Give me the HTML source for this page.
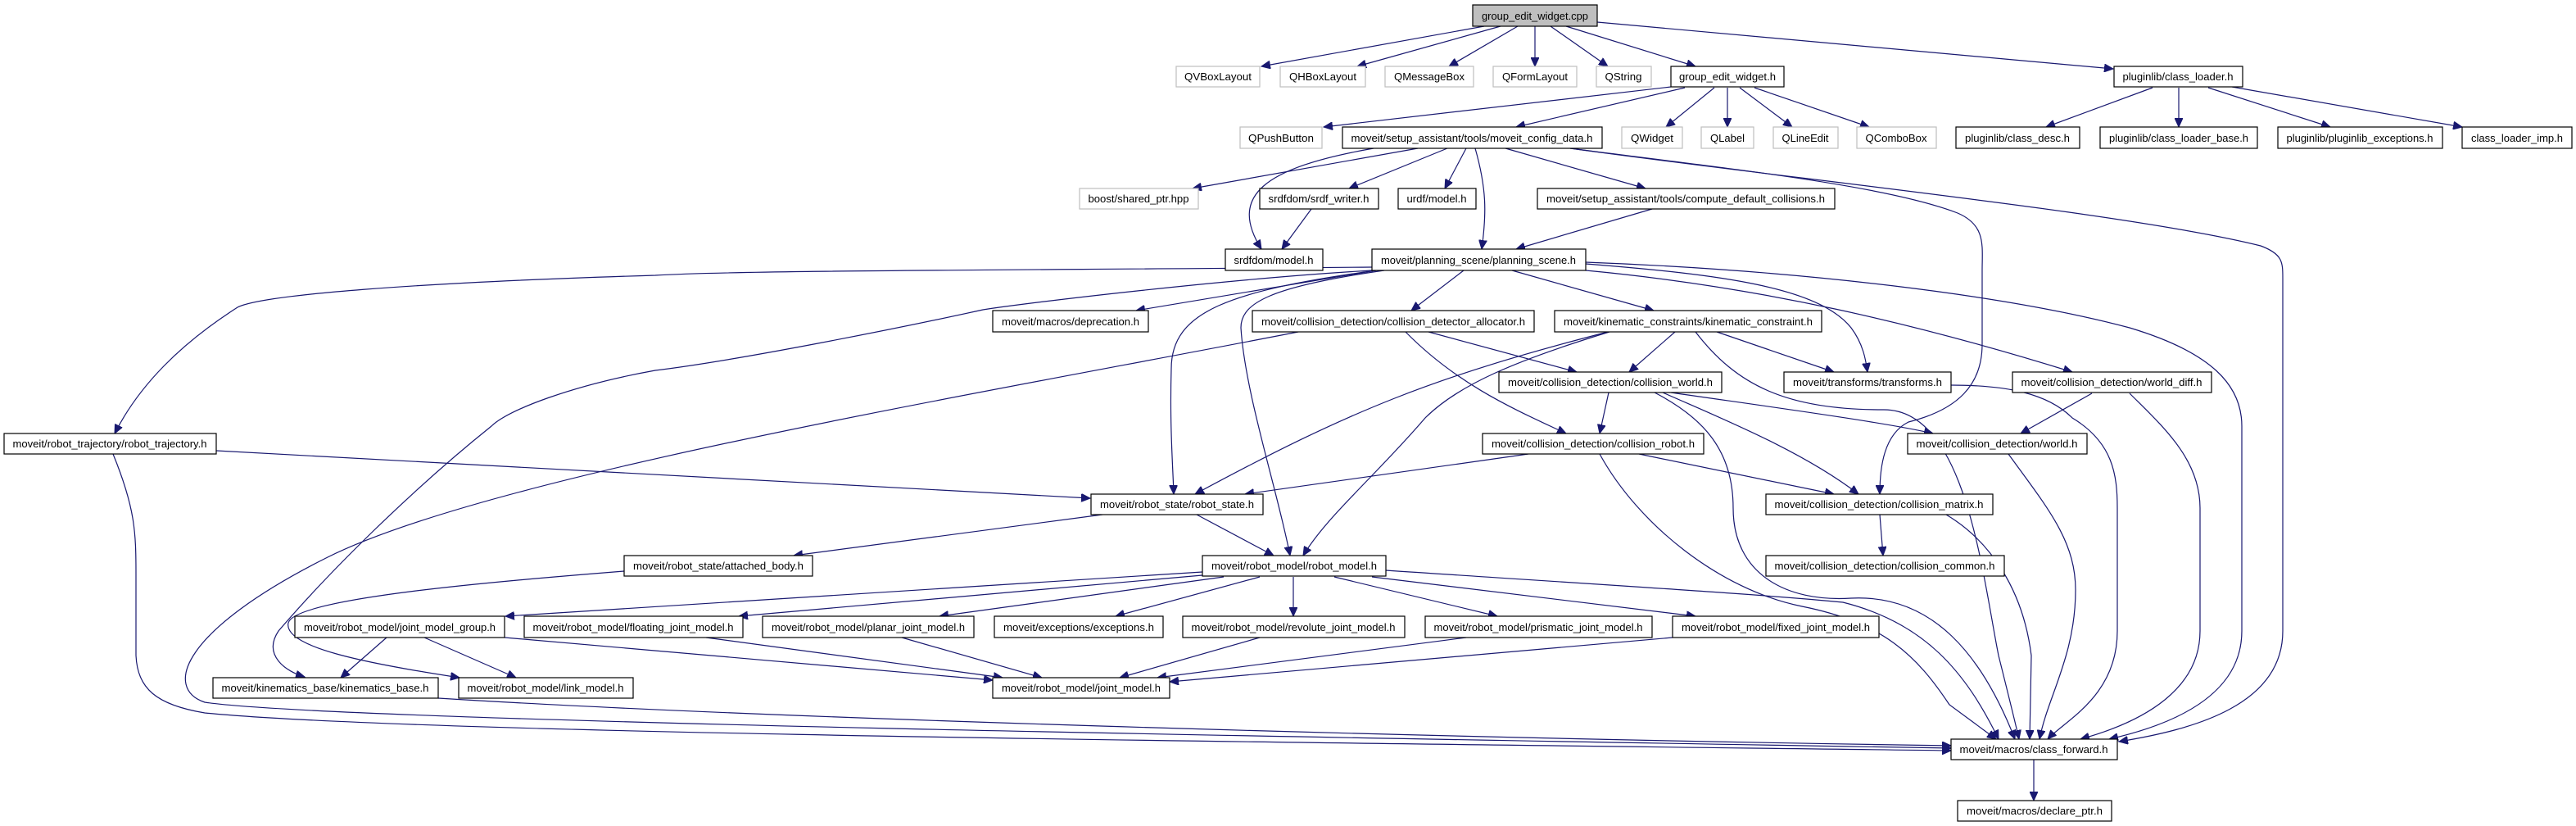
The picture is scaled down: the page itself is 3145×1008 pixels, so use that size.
<!DOCTYPE html>
<html><head><meta charset="utf-8"><style>
html,body{margin:0;padding:0;background:#fff;}
svg{display:block;}
text{font-family:"Liberation Sans",Arial,sans-serif;font-size:13px;fill:#000;text-anchor:middle;}
.n{fill:#fff;stroke:#000;stroke-width:1.2;}
.g{fill:#fff;stroke:#bfbfbf;stroke-width:1.2;}
.e{fill:none;stroke:#191970;stroke-width:1.2;marker-end:url(#a);}
</style></head><body>
<svg width="3145" height="1008" viewBox="0 0 3145 1008" xmlns="http://www.w3.org/2000/svg">
<defs><marker id="a" markerUnits="userSpaceOnUse" markerWidth="12" markerHeight="10" refX="11" refY="5" orient="auto"><path d="M0,0 L11,5 L0,10 z" fill="#191970" stroke="#191970"/></marker></defs>
<g>
<!-- edges -->
<path class="e" d="M1812,32 L1540,81"/>
<path class="e" d="M1832,32 L1657,81"/>
<path class="e" d="M1853,32 L1769,81"/>
<path class="e" d="M1874,32 L1874,81"/>
<path class="e" d="M1893,32 L1963,81"/>
<path class="e" d="M1912,32 L2070,81"/>
<path class="e" d="M1950,27 L2580,84"/>
<path class="e" d="M2040,106 L1616,155"/>
<path class="e" d="M2057,107 L1851,155"/>
<path class="e" d="M2093,107 L2034,155"/>
<path class="e" d="M2109,107 L2109,155"/>
<path class="e" d="M2124,107 L2188,155"/>
<path class="e" d="M2142,107 L2282,155"/>
<path class="e" d="M2628,107 L2498,155"/>
<path class="e" d="M2660,107 L2660,155"/>
<path class="e" d="M2696,107 L2845,155"/>
<path class="e" d="M2725,106 L3006,155"/>
<path class="e" d="M1731,181 L1456,230"/>
<path class="e" d="M1677,181 C1540,205 1500,240 1540,304"/>
<path class="e" d="M1601,255 L1565,304"/>
<path class="e" d="M1767,181 L1647,230"/>
<path class="e" d="M1790,181 L1764,230"/>
<path class="e" d="M1801,181 C1815,230 1815,260 1809,304"/>
<path class="e" d="M1838,181 L2009,230"/>
<path class="e" d="M2017,255 L1851,304"/>
<path class="e" d="M1917,181 C2100,205 2300,225 2390,260 C2425,275 2420,300 2420,330 L2420,420 C2420,470 2390,500 2330,515 C2300,530 2295,570 2295,603"/>
<path class="e" d="M1917,181 C2200,220 2600,260 2760,300 C2787,310 2787,320 2787,340 L2787,770 C2787,860 2680,890 2587,905"/>
<path class="e" d="M1675,326 C1200,330 900,330 800,336 C500,345 320,360 290,375 C220,420 170,470 140,529"/>
<path class="e" d="M1675,330 C1500,340 1250,370 1200,378 C1100,400 900,440 800,452 C700,470 620,500 600,520 C500,600 400,700 340,770 C320,800 350,820 372,826"/>
<path class="e" d="M1585,405 C1200,480 600,580 400,680 C220,770 200,840 250,857 C400,880 1600,900 2382,913"/>
<path class="e" d="M138,554 C165,620 166,650 166,700 L166,800 C168,840 190,860 250,870 C500,895 1500,905 2382,916"/>
<path class="e" d="M535,852 C900,875 1700,900 2382,910"/>
<path class="e" d="M1680,330 L1387,379"/>
<path class="e" d="M1680,330 C1500,355 1430,380 1430,450 C1428,520 1432,570 1433,603"/>
<path class="e" d="M1690,330 C1550,350 1515,370 1515,400 C1520,480 1560,600 1575,678"/>
<path class="e" d="M1787,330 L1723,379"/>
<path class="e" d="M1846,330 L2019,379"/>
<path class="e" d="M1936,322 C2100,335 2220,350 2260,400 C2275,420 2278,440 2280,454"/>
<path class="e" d="M1936,330 C2150,350 2340,395 2530,454"/>
<path class="e" d="M1936,320 C2200,330 2450,360 2600,400 C2700,430 2737,470 2737,520 L2737,770 C2737,850 2650,885 2575,902"/>
<path class="e" d="M2045,405 L1989,454"/>
<path class="e" d="M2096,405 L2239,454"/>
<path class="e" d="M1963,405 C1750,460 1650,500 1459,603"/>
<path class="e" d="M1965,405 C1850,440 1780,470 1740,510 C1680,580 1620,630 1591,678"/>
<path class="e" d="M2070,405 C2120,470 2180,500 2300,500 C2400,500 2420,700 2440,800 C2455,860 2460,880 2465,902"/>
<path class="e" d="M1744,405 L1925,454"/>
<path class="e" d="M1716,405 C1780,470 1850,500 1912,529"/>
<path class="e" d="M1964,479 L1953,529"/>
<path class="e" d="M2040,479 C2150,495 2300,515 2360,529"/>
<path class="e" d="M2030,479 C2100,510 2200,550 2269,603"/>
<path class="e" d="M2020,479 C2080,510 2116,550 2116,620 C2116,700 2180,735 2260,730 C2360,725 2420,800 2460,902"/>
<path class="e" d="M2554,480 L2467,529"/>
<path class="e" d="M2600,480 C2640,520 2686,560 2686,620 L2686,770 C2686,840 2620,880 2540,902"/>
<path class="e" d="M2452,554 C2500,620 2534,660 2534,720 C2534,800 2500,850 2490,902"/>
<path class="e" d="M2382,470 C2450,470 2500,480 2530,510 C2580,540 2585,580 2585,620 L2585,770 C2585,850 2520,880 2500,902"/>
<path class="e" d="M2376,628 C2430,660 2470,720 2480,800 L2478,902"/>
<path class="e" d="M1953,554 C2000,640 2100,720 2200,740 C2300,760 2340,800 2380,860 L2437,902"/>
<path class="e" d="M1866,554 L1520,603"/>
<path class="e" d="M2001,554 L2239,603"/>
<path class="e" d="M2295,628 L2299,678"/>
<path class="e" d="M264,550 L1331,608"/>
<path class="e" d="M1346,628 L969,678"/>
<path class="e" d="M1461,628 L1555,678"/>
<path class="e" d="M762,697 C600,710 360,730 352,760 C345,790 450,810 561,827"/>
<path class="e" d="M1468,698 L617,752"/>
<path class="e" d="M1468,702 L902,752"/>
<path class="e" d="M1494,704 L1147,752"/>
<path class="e" d="M1538,704 L1362,752"/>
<path class="e" d="M1579,704 L1579,752"/>
<path class="e" d="M1629,704 L1828,752"/>
<path class="e" d="M1675,704 L2070,752"/>
<path class="e" d="M1692,696 C1900,710 2150,725 2250,735 C2350,760 2400,820 2440,902"/>
<path class="e" d="M472,778 L416,827"/>
<path class="e" d="M518,778 L630,827"/>
<path class="e" d="M616,778 L1212,830"/>
<path class="e" d="M862,778 L1224,827"/>
<path class="e" d="M1101,778 L1272,827"/>
<path class="e" d="M1538,778 L1367,827"/>
<path class="e" d="M1790,778 L1413,827"/>
<path class="e" d="M2042,778 L1428,832"/>
<path class="e" d="M2483,927 L2483,977"/>
</g>
<g>
<!-- nodes -->
<rect x="1798" y="6" width="152" height="26" fill="#bfbfbf" stroke="#000" stroke-width="1.2"/><text x="1874" y="24" textLength="130" lengthAdjust="spacingAndGlyphs">group_edit_widget.cpp</text>

<rect class="g" x="1436" y="81" width="102" height="25"/><text x="1487" y="98" textLength="82" lengthAdjust="spacingAndGlyphs">QVBoxLayout</text>
<rect class="g" x="1563" y="81" width="104" height="25"/><text x="1615" y="98" textLength="82" lengthAdjust="spacingAndGlyphs">QHBoxLayout</text>
<rect class="g" x="1691" y="81" width="108" height="25"/><text x="1745" y="98" textLength="86" lengthAdjust="spacingAndGlyphs">QMessageBox</text>
<rect class="g" x="1823" y="81" width="102" height="25"/><text x="1874" y="98" textLength="80" lengthAdjust="spacingAndGlyphs">QFormLayout</text>
<rect class="g" x="1949" y="81" width="67" height="25"/><text x="1982" y="98" textLength="45" lengthAdjust="spacingAndGlyphs">QString</text>
<rect class="n" x="2040" y="81" width="138" height="25"/><text x="2109" y="98" textLength="118" lengthAdjust="spacingAndGlyphs">group_edit_widget.h</text>
<rect class="n" x="2581" y="81" width="157" height="25"/><text x="2659" y="98" textLength="135" lengthAdjust="spacingAndGlyphs">pluginlib/class_loader.h</text>

<rect class="g" x="1514" y="155" width="100" height="26"/><text x="1564" y="173" textLength="80" lengthAdjust="spacingAndGlyphs">QPushButton</text>
<rect class="n" x="1639" y="155" width="317" height="26"/><text x="1797" y="173" textLength="295" lengthAdjust="spacingAndGlyphs">moveit/setup_assistant/tools/moveit_config_data.h</text>
<rect class="g" x="1980" y="155" width="74" height="26"/><text x="2017" y="173" textLength="52" lengthAdjust="spacingAndGlyphs">QWidget</text>
<rect class="g" x="2077" y="155" width="64" height="26"/><text x="2109" y="173" textLength="42" lengthAdjust="spacingAndGlyphs">QLabel</text>
<rect class="g" x="2165" y="155" width="79" height="26"/><text x="2204" y="173" textLength="57" lengthAdjust="spacingAndGlyphs">QLineEdit</text>
<rect class="g" x="2267" y="155" width="97" height="26"/><text x="2315" y="173" textLength="75" lengthAdjust="spacingAndGlyphs">QComboBox</text>
<rect class="n" x="2388" y="155" width="151" height="26"/><text x="2463" y="173" textLength="128" lengthAdjust="spacingAndGlyphs">pluginlib/class_desc.h</text>
<rect class="n" x="2564" y="155" width="192" height="26"/><text x="2660" y="173" textLength="170" lengthAdjust="spacingAndGlyphs">pluginlib/class_loader_base.h</text>
<rect class="n" x="2781" y="155" width="201" height="26"/><text x="2881" y="173" textLength="179" lengthAdjust="spacingAndGlyphs">pluginlib/pluginlib_exceptions.h</text>
<rect class="n" x="3006" y="155" width="134" height="26"/><text x="3073" y="173" textLength="112" lengthAdjust="spacingAndGlyphs">class_loader_imp.h</text>

<rect class="g" x="1318" y="230" width="145" height="25"/><text x="1390" y="247" textLength="123" lengthAdjust="spacingAndGlyphs">boost/shared_ptr.hpp</text>
<rect class="n" x="1538" y="230" width="145" height="25"/><text x="1610" y="247" textLength="123" lengthAdjust="spacingAndGlyphs">srdfdom/srdf_writer.h</text>
<rect class="n" x="1707" y="230" width="95" height="25"/><text x="1754" y="247" textLength="73" lengthAdjust="spacingAndGlyphs">urdf/model.h</text>
<rect class="n" x="1877" y="230" width="363" height="25"/><text x="2058" y="247" textLength="340" lengthAdjust="spacingAndGlyphs">moveit/setup_assistant/tools/compute_default_collisions.h</text>

<rect class="n" x="1496" y="304" width="119" height="26"/><text x="1555" y="322" textLength="97" lengthAdjust="spacingAndGlyphs">srdfdom/model.h</text>
<rect class="n" x="1675" y="304" width="261" height="26"/><text x="1805" y="322" textLength="238" lengthAdjust="spacingAndGlyphs">moveit/planning_scene/planning_scene.h</text>

<rect class="n" x="1212" y="379" width="190" height="26"/><text x="1307" y="397" textLength="168" lengthAdjust="spacingAndGlyphs">moveit/macros/deprecation.h</text>
<rect class="n" x="1529" y="379" width="344" height="26"/><text x="1701" y="397" textLength="322" lengthAdjust="spacingAndGlyphs">moveit/collision_detection/collision_detector_allocator.h</text>
<rect class="n" x="1898" y="379" width="326" height="26"/><text x="2061" y="397" textLength="304" lengthAdjust="spacingAndGlyphs">moveit/kinematic_constraints/kinematic_constraint.h</text>

<rect class="n" x="1830" y="454" width="272" height="25"/><text x="1966" y="471" textLength="250" lengthAdjust="spacingAndGlyphs">moveit/collision_detection/collision_world.h</text>
<rect class="n" x="2178" y="454" width="204" height="25"/><text x="2280" y="471" textLength="182" lengthAdjust="spacingAndGlyphs">moveit/transforms/transforms.h</text>
<rect class="n" x="2457" y="454" width="243" height="25"/><text x="2578" y="471" textLength="221" lengthAdjust="spacingAndGlyphs">moveit/collision_detection/world_diff.h</text>

<rect class="n" x="5" y="529" width="259" height="25"/><text x="134" y="546" textLength="237" lengthAdjust="spacingAndGlyphs">moveit/robot_trajectory/robot_trajectory.h</text>
<rect class="n" x="1810" y="529" width="270" height="25"/><text x="1945" y="546" textLength="248" lengthAdjust="spacingAndGlyphs">moveit/collision_detection/collision_robot.h</text>
<rect class="n" x="2329" y="529" width="219" height="25"/><text x="2438" y="546" textLength="197" lengthAdjust="spacingAndGlyphs">moveit/collision_detection/world.h</text>

<rect class="n" x="1332" y="603" width="210" height="25"/><text x="1437" y="620" textLength="188" lengthAdjust="spacingAndGlyphs">moveit/robot_state/robot_state.h</text>
<rect class="n" x="2156" y="603" width="277" height="25"/><text x="2294" y="620" textLength="255" lengthAdjust="spacingAndGlyphs">moveit/collision_detection/collision_matrix.h</text>

<rect class="n" x="762" y="678" width="230" height="25"/><text x="877" y="695" textLength="208" lengthAdjust="spacingAndGlyphs">moveit/robot_state/attached_body.h</text>
<rect class="n" x="1468" y="678" width="224" height="25"/><text x="1580" y="695" textLength="202" lengthAdjust="spacingAndGlyphs">moveit/robot_model/robot_model.h</text>
<rect class="n" x="2156" y="678" width="291" height="25"/><text x="2301" y="695" textLength="269" lengthAdjust="spacingAndGlyphs">moveit/collision_detection/collision_common.h</text>

<rect class="n" x="360" y="752" width="256" height="26"/><text x="488" y="770" textLength="234" lengthAdjust="spacingAndGlyphs">moveit/robot_model/joint_model_group.h</text>
<rect class="n" x="640" y="752" width="267" height="26"/><text x="773" y="770" textLength="245" lengthAdjust="spacingAndGlyphs">moveit/robot_model/floating_joint_model.h</text>
<rect class="n" x="931" y="752" width="258" height="26"/><text x="1060" y="770" textLength="236" lengthAdjust="spacingAndGlyphs">moveit/robot_model/planar_joint_model.h</text>
<rect class="n" x="1214" y="752" width="206" height="26"/><text x="1317" y="770" textLength="184" lengthAdjust="spacingAndGlyphs">moveit/exceptions/exceptions.h</text>
<rect class="n" x="1444" y="752" width="271" height="26"/><text x="1579" y="770" textLength="249" lengthAdjust="spacingAndGlyphs">moveit/robot_model/revolute_joint_model.h</text>
<rect class="n" x="1740" y="752" width="277" height="26"/><text x="1878" y="770" textLength="255" lengthAdjust="spacingAndGlyphs">moveit/robot_model/prismatic_joint_model.h</text>
<rect class="n" x="2042" y="752" width="252" height="26"/><text x="2168" y="770" textLength="230" lengthAdjust="spacingAndGlyphs">moveit/robot_model/fixed_joint_model.h</text>

<rect class="n" x="260" y="827" width="275" height="25"/><text x="397" y="844" textLength="253" lengthAdjust="spacingAndGlyphs">moveit/kinematics_base/kinematics_base.h</text>
<rect class="n" x="560" y="827" width="213" height="25"/><text x="666" y="844" textLength="191" lengthAdjust="spacingAndGlyphs">moveit/robot_model/link_model.h</text>
<rect class="n" x="1212" y="827" width="216" height="25"/><text x="1320" y="844" textLength="194" lengthAdjust="spacingAndGlyphs">moveit/robot_model/joint_model.h</text>

<rect class="n" x="2382" y="902" width="203" height="25"/><text x="2483" y="919" textLength="181" lengthAdjust="spacingAndGlyphs">moveit/macros/class_forward.h</text>
<rect class="n" x="2390" y="977" width="188" height="25"/><text x="2484" y="994" textLength="166" lengthAdjust="spacingAndGlyphs">moveit/macros/declare_ptr.h</text>
</g>
</svg>
</body></html>
